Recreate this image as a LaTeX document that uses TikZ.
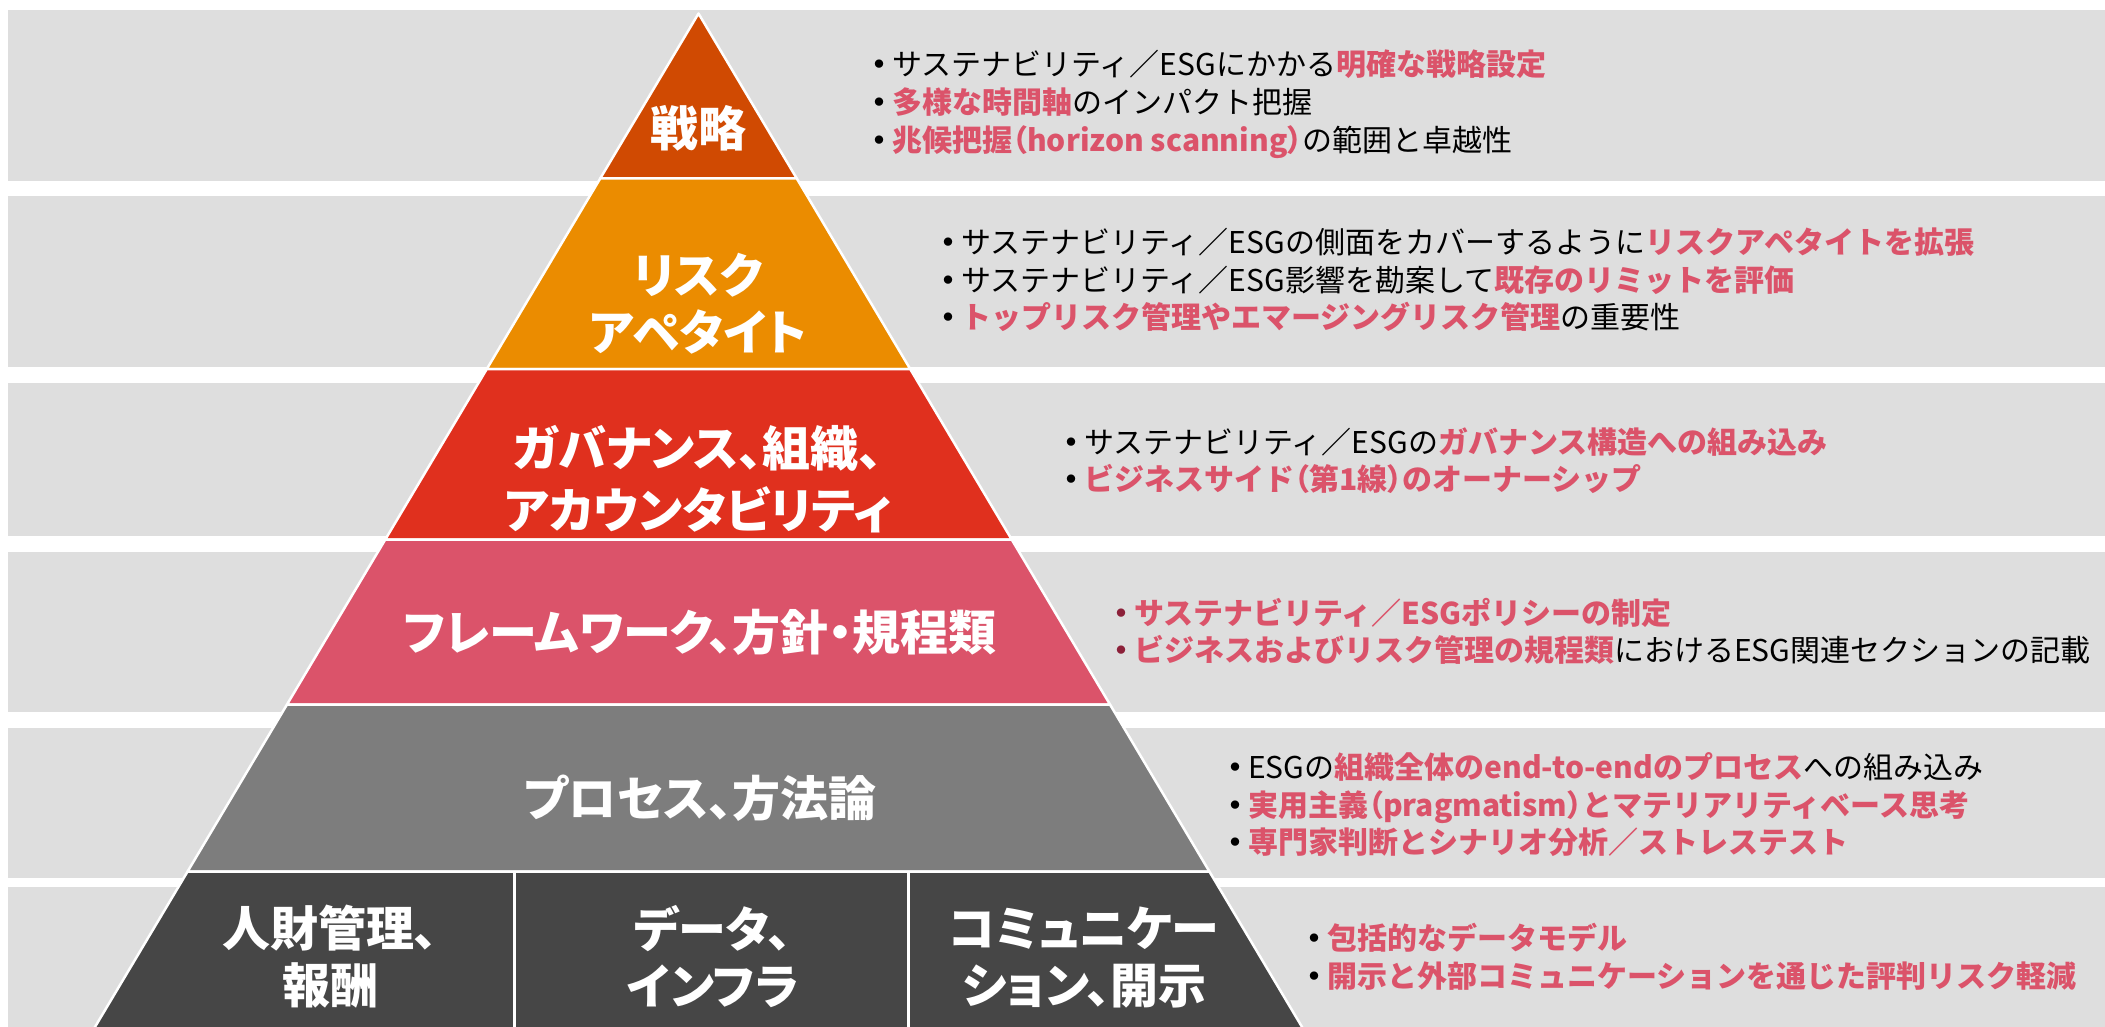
\documentclass[tikz,border=0pt]{standalone}
\usepackage{fontspec}
\setmainfont{Noto Sans CJK JP}
\newfontfamily\jpl[RawFeature=+palt]{Noto Sans CJK JP}
\definecolor{bandgray}{HTML}{DEDEDE}
\definecolor{tA}{HTML}{D04A02}
\definecolor{tB}{HTML}{EB8C00}
\definecolor{tC}{HTML}{E0301E}
\definecolor{tD}{HTML}{DB536A}
\definecolor{tE}{HTML}{7D7D7D}
\definecolor{tF}{HTML}{464646}
\definecolor{hlpink}{HTML}{DB536A}
\definecolor{bulred}{HTML}{8C2039}
\newcommand\hl[1]{\textcolor{hlpink}{\bfseries #1}}
\newcommand\bul{\makebox[20pt][l]{\jpl\bfseries ・}}
\newcommand\rbul{\makebox[20pt][l]{\jpl\bfseries\color{bulred}・}}
\newcommand\lp{{\jpl （}}
\newcommand\rp{{\jpl ）}}
\begin{document}
\begin{tikzpicture}[x=1pt,y=-1pt,
  tier/.style={draw=white, line width=2.5pt, line join=round},
  sepline/.style={draw=white, line width=2.5pt},
  lbl/.style={text=white, font=\jpl\bfseries\fontsize{48}{57}\selectfont, align=center, inner sep=0pt},
  rt/.style={anchor=base west, inner sep=0pt, font=\fontsize{30}{36}\selectfont}]
\useasboundingbox (0,0) rectangle (2105,1027);
\fill[white] (0,0) rectangle (2105,1027);
% gray bands
\fill[bandgray] (8,10) rectangle (2105,181);
\fill[bandgray] (8,196) rectangle (2105,367);
\fill[bandgray] (8,383) rectangle (2105,536);
\fill[bandgray] (8,552) rectangle (2105,712);
\fill[bandgray] (8,728) rectangle (2105,878);
\fill[bandgray] (8,887) rectangle (2105,1027);
% pyramid tiers
\filldraw[tier, fill=tA] (698.5,13.5) -- (796.8,178.5) -- (600.2,178.5) -- cycle;
\filldraw[tier, fill=tB] (600.2,178.5) -- (796.8,178.5) -- (910.2,369) -- (486.8,369) -- cycle;
\filldraw[tier, fill=tC] (486.8,369) -- (910.2,369) -- (1011.7,539.5) -- (385.3,539.5) -- cycle;
\filldraw[tier, fill=tD] (385.3,539.5) -- (1011.7,539.5) -- (1110.0,704.5) -- (287.0,704.5) -- cycle;
\filldraw[tier, fill=tE] (287.0,704.5) -- (1110.0,704.5) -- (1209.4,871.5) -- (187.6,871.5) -- cycle;
\filldraw[tier, fill=tF] (187.6,871.5) -- (1209.4,871.5) -- (1306.8,1035) -- (90.2,1035) -- cycle;
\coordinate (v1t) at (514.5,871.5);
\coordinate (v1b) at (514.5,1035);
\coordinate (v2t) at (908.5,871.5);
\coordinate (v2b) at (908.5,1035);
\draw[sepline] (v1t) -- (v1b);
\draw[sepline] (v2t) -- (v2b);
% pyramid labels
\node[lbl] (l1) at (698,128) {戦略};
\node[lbl] (l2) at (698,304) {リスク\\アペタイト};
\node[lbl, font=\jpl\bfseries\fontsize{48}{62}\selectfont] (l3) at (698,479) {ガバナンス、組織、\\アカウンタビリティ};
\node[lbl] (l4) at (700,632) {フレームワーク、方針・規程類};
\node[lbl] (l5) at (700,798) {プロセス、方法論};
\node[lbl] (l6a) at (330,957) {人財管理、\\報酬};
\node[lbl] (l6b) at (713,957) {データ、\\インフラ};
\node[lbl] (l6c) at (1084,957) {コミュニケー\\ション、開示};
% right texts
\node[rt] (a1) at (872,75.4) {\bul サステナビリティ／ESGにかかる\hl{明確な戦略設定}};
\node[rt] (a2) at (872,113.4) {\bul\hl{多様な時間軸}のインパクト把握};
\node[rt] (a3) at (872,151.4) {\bul\hl{兆候把握\lp horizon scanning\rp}の範囲と卓越性};
\node[rt] (b1) at (941,253.4) {\bul サステナビリティ／ESGの側面をカバーするように\hl{リスクアペタイトを拡張}};
\node[rt] (b2) at (941,291.4) {\bul サステナビリティ／ESG影響を勘案して\hl{既存のリミットを評価}};
\node[rt] (b3) at (941,328.4) {\bul\hl{トップリスク管理やエマージングリスク管理}の重要性};
\node[rt] (c1) at (1064,453.4) {\bul サステナビリティ／ESGの\hl{ガバナンス構造への組み込み}};
\node[rt] (c2) at (1064,490.4) {\bul\hl{ビジネスサイド\lp 第1線\rp のオーナーシップ}};
\node[rt] (d1) at (1114,624.4) {\rbul\hl{サステナビリティ／ESGポリシーの制定}};
\node[rt] (d2) at (1114,661.4) {\rbul\hl{ビジネスおよびリスク管理の規程類}におけるESG関連セクションの記載};
\node[rt] (e1) at (1228,778.4) {\bul ESGの\hl{組織全体のend-to-endのプロセス}への組み込み};
\node[rt] (e2) at (1228,816.4) {\bul\hl{実用主義\lp pragmatism\rp とマテリアリティベース思考}};
\node[rt] (e3) at (1228,853.4) {\bul\hl{専門家判断とシナリオ分析／ストレステスト}};
\node[rt] (f1) at (1307,949.4) {\bul\hl{包括的なデータモデル}};
\node[rt] (f2) at (1307,987.4) {\bul\hl{開示と外部コミュニケーションを通じた評判リスク軽減}};
\end{tikzpicture}
\end{document}
